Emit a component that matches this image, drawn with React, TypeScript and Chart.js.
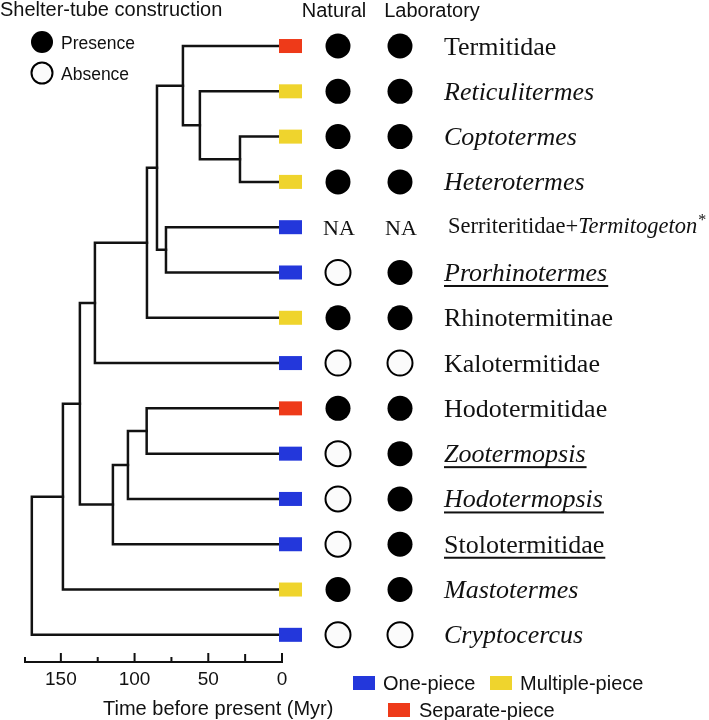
import React, { useEffect, useRef } from 'react';
import { Chart, registerables } from 'chart.js';

Chart.register(...registerables);

// ---------- data ----------
const TAXA = [
  'Termitidae',
  'Reticulitermes',
  'Coptotermes',
  'Heterotermes',
  'Serriteritidae+Termitogeton',
  'Prorhinotermes',
  'Rhinotermitinae',
  'Kalotermitidae',
  'Hodotermitidae',
  'Zootermopsis',
  'Hodotermopsis',
  'Stolotermitidae',
  'Mastotermes',
  'Cryptocercus',
];
const TAXON_ITALIC = [false, true, true, true, false, true, false, false, false, true, true, false, true, true];
const TAXON_UNDERLINE = [false, false, false, false, false, true, false, false, false, true, true, true, false, false];

const TUBE_TYPES = ['One-piece', 'Multiple-piece', 'Separate-piece'];
const TUBE_COLORS = ['#2337DB', '#EFD42D', '#EE3A19'];
const TAXON_TUBE = [
  'Separate-piece', 'Multiple-piece', 'Multiple-piece', 'Multiple-piece', 'One-piece', 'One-piece',
  'Multiple-piece', 'One-piece', 'Separate-piece', 'One-piece', 'One-piece', 'One-piece',
  'Multiple-piece', 'One-piece',
];

// 1 = presence, 0 = absence, null = NA
const NATURAL = [1, 1, 1, 1, null, 0, 1, 0, 1, 0, 0, 0, 1, 0];
const LABORATORY = [1, 1, 1, 1, null, 1, 1, 0, 1, 1, 1, 1, 1, 0];
const COLUMN_TITLES = ['Natural', 'Laboratory'];

// internal nodes: id, age (Myr), children (tips by name or node ids)
const NODE_IDS = ['n1', 'n2', 'n3', 'n4', 'n5', 'n6', 'n7', 'n8', 'n9', 'n10', 'n11', 'n12', 'n13'];
const NODE_AGES = [28.5, 55.7, 67.2, 78.7, 84.8, 91.6, 126.9, 91.8, 104.5, 114.7, 137.1, 148.6, 169.7];
const NODE_CHILDREN = [
  ['Coptotermes', 'Heterotermes'],
  ['Reticulitermes', 'n1'],
  ['Termitidae', 'n2'],
  ['Serriteritidae+Termitogeton', 'Prorhinotermes'],
  ['n3', 'n4'],
  ['n5', 'Rhinotermitinae'],
  ['n6', 'Kalotermitidae'],
  ['Hodotermitidae', 'Zootermopsis'],
  ['n8', 'Hodotermopsis'],
  ['n9', 'Stolotermitidae'],
  ['n7', 'n10'],
  ['n11', 'Mastotermes'],
  ['n12', 'Cryptocercus'],
];

const TIME_TICKS = [0, 25, 50, 75, 100, 125, 150];
const TIME_TICK_LABELS = ['0', '', '50', '', '100', '', '150'];
const TIME_MAX = 175;
const AXIS_TITLE = 'Time before present (Myr)';
const LEGEND_TITLE = 'Shelter-tube construction';
const LEGEND_STATES = ['Presence', 'Absence'];

// ---------- tree layout ----------
function nodeAge(id: string): number {
  const i = NODE_IDS.indexOf(id);
  return i >= 0 ? NODE_AGES[i] : 0;
}
function nodeRow(id: string): number {
  const t = TAXA.indexOf(id);
  if (t >= 0) return t;
  const i = NODE_IDS.indexOf(id);
  const ch = NODE_CHILDREN[i];
  return (nodeRow(ch[0]) + nodeRow(ch[ch.length - 1])) / 2;
}

function buildTreeDatasets() {
  return NODE_IDS.map((id, i) => {
    const age = NODE_AGES[i];
    const [a, b] = NODE_CHILDREN[i];
    const ya = nodeRow(a);
    const yb = nodeRow(b);
    return {
      type: 'line' as const,
      label: id,
      data: [
        { x: nodeAge(a), y: ya },
        { x: age, y: ya },
        { x: age, y: yb },
        { x: nodeAge(b), y: yb },
      ],
      borderColor: '#121212',
      borderWidth: 2.5,
      borderJoinStyle: 'miter' as const,
      borderCapStyle: 'square' as const,
      pointRadius: 0,
      tension: 0,
      fill: false,
      clip: false as any,
    };
  });
}

const SANS = '"Liberation Sans", Arial, sans-serif';
const SERIF = '"Liberation Serif", "Times New Roman", serif';

function drawCircle(ctx: CanvasRenderingContext2D, x: number, y: number, r: number, filled: boolean) {
  ctx.beginPath();
  ctx.arc(x, y, r, 0, Math.PI * 2);
  if (filled) {
    ctx.fillStyle = '#000';
    ctx.fill();
  } else {
    ctx.fillStyle = '#fbfbfb';
    ctx.fill();
    ctx.lineWidth = 2;
    ctx.strokeStyle = '#000';
    ctx.stroke();
  }
}

const overlayPlugin = {
  id: 'overlay',
  afterDatasetsDraw(chart: any) {
    const ctx: CanvasRenderingContext2D = chart.ctx;
    const xs = chart.scales.x;
    const ys = chart.scales.y;
    const x0 = xs.getPixelForValue(0);
    const colX = [x0 + 56, x0 + 118];
    const labelX = x0 + 162;
    ctx.save();

    // tube-type squares, state circles, taxon labels
    TAXA.forEach((name, i) => {
      const y = ys.getPixelForValue(i);
      ctx.fillStyle = TUBE_COLORS[TUBE_TYPES.indexOf(TAXON_TUBE[i])];
      ctx.fillRect(x0 - 3, y - 7, 23, 14);

      [NATURAL[i], LABORATORY[i]].forEach((v, c) => {
        if (v === null) {
          ctx.fillStyle = '#111';
          ctx.font = `22px ${SERIF}`;
          ctx.textAlign = 'center';
          ctx.textBaseline = 'alphabetic';
          ctx.fillText('NA', colX[c] + 1, y + 7.5);
        } else {
          drawCircle(ctx, colX[c], y, 12.5, v === 1);
        }
      });

      ctx.fillStyle = '#111';
      ctx.textAlign = 'left';
      ctx.textBaseline = 'alphabetic';
      if (name.includes('+')) {
        const [p1, p2] = name.split('+');
        ctx.font = `22.5px ${SERIF}`;
        const t1 = p1 + '+';
        ctx.fillText(t1, labelX + 4, y + 6);
        const w1 = ctx.measureText(t1).width;
        ctx.font = `italic 22.5px ${SERIF}`;
        ctx.fillText(p2, labelX + 4 + w1, y + 6);
        const w2 = ctx.measureText(p2).width;
        ctx.font = `16px ${SERIF}`;
        ctx.fillText('*', labelX + 4 + w1 + w2 + 1, y - 2);
      } else {
        ctx.font = `${TAXON_ITALIC[i] ? 'italic ' : ''}26px ${SERIF}`;
        ctx.fillText(name, labelX, y + 8.5);
        if (TAXON_UNDERLINE[i]) {
          const w = ctx.measureText(name).width;
          ctx.fillRect(labelX, y + 12.5, w + 1, 2);
        }
      }
    });

    // column titles
    ctx.fillStyle = '#111';
    ctx.font = `20px ${SANS}`;
    ctx.textAlign = 'center';
    ctx.fillText(COLUMN_TITLES[0], x0 + 52, 17);
    ctx.fillText(COLUMN_TITLES[1], x0 + 150, 17);

    // presence / absence legend
    ctx.textAlign = 'left';
    ctx.font = `20px ${SANS}`;
    ctx.fillText(LEGEND_TITLE, 0, 16);
    ctx.font = `17.5px ${SANS}`;
    LEGEND_STATES.forEach((s, k) => {
      const ly = 42 + k * 31;
      drawCircle(ctx, 42, ly, k === 0 ? 11 : 10.5, k === 0);
      ctx.fillStyle = '#111';
      ctx.fillText(s, 61, ly + 6.5);
    });

    // time axis
    const ay = chart.chartArea.bottom;
    const left = xs.getPixelForValue(TIME_MAX);
    ctx.fillStyle = '#111';
    ctx.fillRect(left, ay - 1, x0 - left + 1, 2);
    ctx.fillRect(left, ay - 5, 2, 5);
    ctx.font = `19px ${SANS}`;
    ctx.textAlign = 'center';
    TIME_TICKS.forEach((v, k) => {
      const px = xs.getPixelForValue(v);
      const lab = TIME_TICK_LABELS[k];
      const len = lab ? 9 : v < 50 ? 8 : 5;
      ctx.fillRect(px - 1, ay - len, 2, len);
      if (lab) ctx.fillText(lab, px, 685);
    });
    ctx.textAlign = 'left';
    ctx.font = `20px ${SANS}`;
    ctx.fillText(AXIS_TITLE, 103, 715);

    // tube-type legend
    const legendPos = [
      [353, 676],
      [490, 676],
      [388, 703],
    ];
    TUBE_TYPES.forEach((t, k) => {
      const [lx, ly] = legendPos[k];
      ctx.fillStyle = TUBE_COLORS[k];
      ctx.fillRect(lx, ly, 22, 14);
      ctx.fillStyle = '#111';
      ctx.fillText(t, lx + (k === 2 ? 31 : 30), ly + 13.5);
    });

    ctx.restore();
  },
};

export default function App() {
  const ref = useRef<HTMLCanvasElement>(null);
  useEffect(() => {
    document.body.style.margin = '0';
    const canvas = ref.current!;
    const chart = new Chart(canvas, {
      type: 'scatter',
      data: { datasets: buildTreeDatasets() as any },
      options: {
        responsive: false,
        animation: false,
        devicePixelRatio: 1,
        layout: { padding: { left: 24, right: 709 - 282, top: 3, bottom: 58 } },
        plugins: { legend: { display: false }, tooltip: { enabled: false }, title: { display: false } },
        scales: {
          x: { type: 'linear', reverse: true, min: 0, max: TIME_MAX, display: false },
          y: { type: 'linear', reverse: true, min: -0.95, max: 13.6, display: false },
        },
      },
      plugins: [overlayPlugin],
    });
    return () => chart.destroy();
  }, []);
  return (
    <div style={{ width: 709, height: 720, background: '#fff' }}>
      <canvas ref={ref} width={709} height={720} style={{ display: 'block', width: 709, height: 720 }} />
    </div>
  );
}
